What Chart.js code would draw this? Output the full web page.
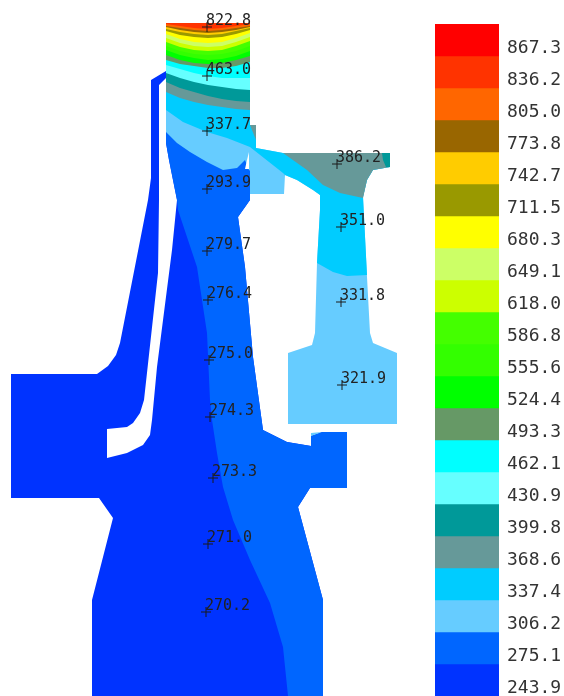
<!DOCTYPE html>
<html>
<head>
<meta charset="utf-8">
<script src="https://cdn.jsdelivr.net/npm/chart.js@4"></script>
<style>
  html, body { margin: 0; padding: 0; background: #fff; }
  canvas { position: absolute; top: 0; }
  #part { left: 0; }
  #scale { left: 435px; }
</style>
</head>
<body>
<canvas id="part" width="430" height="696"></canvas>
<canvas id="scale" width="129" height="696"></canvas>
<script>
const levels = [867.3, 836.2, 805.0, 773.8, 742.7, 711.5, 680.3, 649.1, 618.0, 586.8, 555.6,
  524.4, 493.3, 462.1, 430.9, 399.8, 368.6, 337.4, 306.2, 275.1, 243.9];
const bandColors = ['#ff0000', '#ff3300', '#ff6600', '#996600', '#ffcc00', '#999900', '#ffff00',
  '#ccff66', '#ccff00', '#44ff00', '#33ff00', '#00ff00', '#669966', '#00ffff', '#66ffff',
  '#009999', '#669999', '#00ccff', '#66ccff', '#0066ff', '#0033ff'];
// top edge of each band, in the same units as the levels
const bandTops = [891.3, 860.2, 829.0, 797.8, 766.7, 735.5, 704.3, 673.1, 642.0, 610.8, 579.6,
  548.4, 517.3, 486.1, 454.9, 423.8, 392.6, 361.4, 330.2, 299.1, 267.9];
const bandBottom = 236.7;

const probeX = [207, 207, 207, 207, 207, 208, 209, 210, 213, 208, 206, 337, 341, 341, 342];
const probeY = [27, 76, 131, 189, 251, 300, 360, 417, 478, 544, 612, 164, 227, 302, 385];
const probeText = ['822.8', '463.0', '337.7', '293.9', '279.7', '276.4', '275.0', '274.3',
  '273.3', '271.0', '270.2', '386.2', '351.0', '331.8', '321.9'];

// outlines
const bodyOutline = [[166, 23], [250, 23], [250, 200], [238, 217], [245, 267], [253, 357], [263, 430],
  [287, 442], [311, 446], [311, 436], [322, 432], [347, 432], [347, 488], [310, 488], [298, 507],
  [323, 600], [323, 696], [92, 696], [92, 600], [113, 518], [99, 498], [11, 498], [11, 374], [97, 374],
  [108, 366], [116, 355], [120, 343], [148, 200], [151, 178], [151, 80], [166, 71]];
const slotOutline = [[166, 78], [159, 85], [159, 200], [158, 273], [144, 400], [140, 413], [133, 423],
  [127, 427], [107, 429], [107, 458], [127, 453], [143, 445], [150, 435], [152, 420], [157, 367],
  [172, 250], [177, 200], [169, 160], [166, 143]];
const warmDisc = [[166, 23], [250, 23], [250, 170], [253, 173], [250, 193], [250, 200], [238, 217],
  [245, 267], [253, 357], [263, 430], [287, 442], [311, 446], [311, 436], [322, 432], [347, 432],
  [347, 488], [310, 488], [298, 507], [323, 600], [323, 696], [288, 696], [283, 647], [270, 603],
  [250, 560], [233, 520], [223, 487], [217, 453], [212, 420], [210, 400], [207, 333], [197, 267],
  [178, 210], [177, 200], [169, 160], [166, 143]];
const flangeTip = [[311, 436], [322, 432], [311, 433]];
const bladeOutline = [[250, 125], [256, 125], [256, 148], [283, 153], [390, 153], [390, 167], [373, 170],
  [367, 180], [363, 197], [367, 277], [370, 333], [373, 343], [397, 353], [397, 424], [288, 424],
  [288, 353], [312, 345], [315, 333], [317, 263], [320, 210], [320, 195], [313, 190], [297, 180],
  [285, 175], [284, 194], [250, 194]];
const lightZone = [[166, 23], [250, 23], [250, 170], [253, 173], [249, 170], [245, 160], [243, 162],
  [237, 168], [223, 170], [207, 162], [190, 152], [177, 143], [166, 132]];
const slit = [[249, 152], [249, 169], [245, 169], [247, 160]];
const cyanZone = [[166, 23], [250, 23], [250, 125], [256, 125], [256, 148], [283, 153], [390, 153],
  [390, 167], [373, 170], [367, 180], [363, 197], [367, 275], [347, 276], [333, 272], [317, 263],
  [320, 210], [320, 195], [313, 190], [297, 180], [285, 175], [283, 173], [250, 147], [227, 138],
  [207, 132], [183, 122], [166, 110]];
const bladeHead = [[283, 153], [390, 153], [390, 167], [373, 170], [367, 180], [363, 198], [340, 193],
  [323, 185], [307, 170]];
const shoulderTooth = [[250, 125], [256, 125], [256, 140]];
const bladeTip = [[382, 153], [390, 153], [390, 167], [386, 167], [383, 160]];

// isotherms across the hot column, lower edge of each band, hottest last
const columnX = [166, 180, 194, 208, 222, 236, 250];
const columnColors = ['#669999', '#009999', '#66ffff', '#00ffff', '#669966', '#00ff00', '#33ff00',
  '#44ff00', '#ccff00', '#ccff66', '#ffff00', '#999900', '#ffcc00', '#996600', '#ff6600', '#ff3300'];
const columnEdges = [
  [92, 98, 102, 105, 107, 109, 110],
  [82, 88, 92, 96, 99, 101, 102],
  [73, 78, 82, 85, 87, 89, 90],
  [65, 69, 73, 76, 78, 78, 78],
  [60, 64, 66, 68, 68, 66, 62],
  [55, 60, 63, 64, 63, 60, 56],
  [50, 55, 58, 60, 59, 56, 51],
  [46, 51, 54, 55, 54, 51, 46],
  [42, 47, 50, 51, 50, 46, 41],
  [38, 43, 46, 47, 46, 42, 37],
  [34, 39, 42, 43, 42, 38, 33],
  [31, 35, 37, 38, 37, 34, 30],
  [29, 32, 34, 35, 34, 31, 28],
  [27, 30, 32, 33, 32, 30, 27],
  [26, 28, 30, 31, 30, 28, 26],
  [24, 26, 28, 29, 28, 26, 24]
];

function region(points, color) {
  return {
    data: points,
    showLine: true,
    fill: 'shape',
    backgroundColor: color,
    borderWidth: 0,
    pointRadius: 0,
    tension: 0
  };
}

const regions = [
  region(bodyOutline, '#0033ff'),
  region(slotOutline, '#ffffff'),
  region(warmDisc, '#0066ff'),
  region(flangeTip, '#66ccff'),
  region(bladeOutline, '#66ccff'),
  region(lightZone, '#66ccff'),
  region(slit, '#ffffff'),
  region(cyanZone, '#00ccff'),
  region(bladeHead, '#669999'),
  region(shoulderTooth, '#669999'),
  region(bladeTip, '#009999')
];
columnEdges.forEach((edge, i) => {
  const pts = [[166, 23], [250, 23]];
  for (let k = columnX.length - 1; k >= 0; k--) pts.push([columnX[k], edge[k]]);
  regions.push(region(pts, columnColors[i]));
});

const probes = {
  data: probeX.map((x, i) => [x, probeY[i]]),
  showLine: false,
  pointStyle: 'cross',
  pointRadius: 5,
  pointBorderColor: '#1a1a1a',
  pointBorderWidth: 1
};

// chart.js paints the highest order first
const partSets = regions.concat([probes]);
partSets.forEach((d, i) => { d.order = partSets.length - i; });

const probeLabels = {
  id: 'probeLabels',
  afterDatasetsDraw(chart) {
    const ctx = chart.ctx;
    ctx.save();
    ctx.font = '15px "DejaVu Sans Mono"';
    ctx.fillStyle = '#222';
    ctx.textBaseline = 'middle';
    probeText.forEach((t, i) => {
      ctx.fillText(t, chart.scales.x.getPixelForValue(probeX[i]) - 1, chart.scales.y.getPixelForValue(probeY[i] - 6));
    });
    ctx.restore();
  }
};

new Chart(document.getElementById('part'), {
  type: 'scatter',
  data: { datasets: partSets },
  plugins: [probeLabels],
  options: {
    responsive: false,
    animation: false,
    events: [],
    layout: { padding: 0, autoPadding: false },
    scales: {
      x: { type: 'linear', min: 0, max: 430, display: false },
      y: { type: 'linear', min: 0, max: 696, reverse: true, display: false }
    },
    plugins: { legend: { display: false }, tooltip: { enabled: false } }
  }
});

new Chart(document.getElementById('scale'), {
  type: 'bar',
  data: {
    labels: [''],
    datasets: levels.map((lv, i) => ({
      label: String(lv),
      data: [[i + 1 < bandTops.length ? bandTops[i + 1] : bandBottom, bandTops[i]]],
      backgroundColor: bandColors[i],
      borderWidth: 0,
      barPercentage: 1,
      categoryPercentage: 1
    }))
  },
  options: {
    responsive: false,
    animation: false,
    events: [],
    layout: { padding: { top: 24, left: 0, right: 0, bottom: 0 }, autoPadding: false },
    scales: {
      x: { stacked: true, display: false },
      y: {
        position: 'right',
        min: bandBottom,
        max: bandTops[0],
        grid: { display: false, drawTicks: false },
        border: { display: false },
        afterFit(scale) { scale.width = 65; scale.paddingTop = 0; scale.paddingBottom = 0; },
        afterBuildTicks(scale) { scale.ticks = levels.map(v => ({ value: v })); },
        ticks: {
          autoSkip: false,
          padding: 8,
          color: '#333',
          font: { family: '"DejaVu Sans Mono"', size: 18 },
          callback: v => v.toFixed(1)
        }
      }
    },
    plugins: { legend: { display: false }, tooltip: { enabled: false } }
  }
});
</script>
</body>
</html>
